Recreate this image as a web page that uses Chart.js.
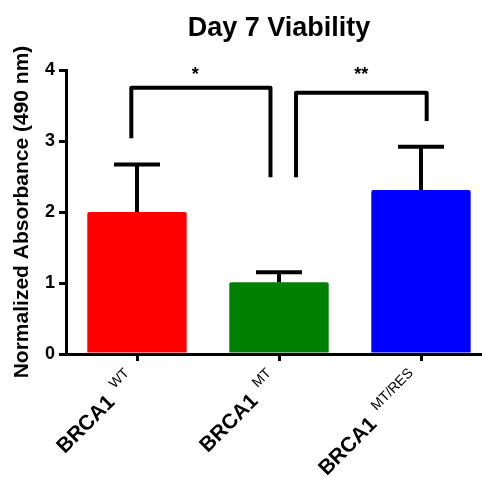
<!DOCTYPE html>
<html>
<head>
<meta charset="utf-8">
<script src="https://cdn.jsdelivr.net/npm/chart.js@4"></script>
<style>
  html, body { margin: 0; padding: 0; background: #fff; overflow: hidden; }
  canvas { display: block; }
</style>
</head>
<body>
<canvas id="c" width="500" height="477"></canvas>
<script>
// Day 7 viability, normalized absorbance at 490 nm
const groups = ['WT', 'MT', 'MT/RES']
const means = [2.0, 1.01, 2.31]
const errUp = [0.67, 0.14, 0.61]
const barColors = ['#ff0000', '#008000', '#0000ff']
const yTicks = [0, 1, 2, 3, 4]

// significance brackets: category positions and value levels
const sigLabels = ['*', '**']
const sigFrom = [-0.04, 1.12]
const sigTo = [0.94, 2.04]
const sigTop = [3.75, 3.68]
const sigLeftEnd = [3.04, 2.49]
const sigRightEnd = [2.49, 3.28]
const sigLabelAt = [0.41, 1.58]
const sigLabelLevel = 3.97

const FONT = 'Liberation Sans, Arial, sans-serif'

//upper-only error bars with a cap
const errorBars = {
    id: 'errorBars',
    afterDatasetsDraw(chart) {
        const {ctx, scales: {x, y}} = chart
        ctx.save()
        ctx.strokeStyle = '#000'
        ctx.lineWidth = 4
        means.forEach((m, i) => {
            const cx = x.getPixelForValue(i)
            const y0 = y.getPixelForValue(m)
            const y1 = y.getPixelForValue(m + errUp[i])
            ctx.beginPath()
            ctx.moveTo(cx, y0)
            ctx.lineTo(cx, y1)
            ctx.moveTo(cx - 23, y1)
            ctx.lineTo(cx + 23, y1)
            ctx.stroke()
        })
        ctx.restore()
    }
}

const brackets = {
    id: 'brackets',
    afterDatasetsDraw(chart) {
        const {ctx, scales: {x, y}} = chart
        ctx.save()
        ctx.strokeStyle = '#000'
        ctx.lineWidth = 4
        ctx.lineJoin = 'round'
        sigLabels.forEach((lab, i) => {
            const x0 = x.getPixelForValue(sigFrom[i])
            const x1 = x.getPixelForValue(sigTo[i])
            const yt = y.getPixelForValue(sigTop[i])
            ctx.beginPath()
            ctx.moveTo(x0, y.getPixelForValue(sigLeftEnd[i]))
            ctx.lineTo(x0, yt)
            ctx.lineTo(x1, yt)
            ctx.lineTo(x1, y.getPixelForValue(sigRightEnd[i]))
            ctx.stroke()
            ctx.fillStyle = '#000'
            ctx.font = 'bold 18px ' + FONT
            ctx.textAlign = 'center'
            ctx.textBaseline = 'middle'
            ctx.fillText(lab, x.getPixelForValue(sigLabelAt[i]), y.getPixelForValue(sigLabelLevel) + 3)
        })
        ctx.restore()
    }
}

//rotated "BRCA1" labels with superscript genotype
const xLabels = {
    id: 'xLabels',
    afterDraw(chart) {
        const {ctx, scales: {x}} = chart
        ctx.save()
        ctx.fillStyle = '#000'
        groups.forEach((g, i) => {
            const cx = x.getPixelForValue(i)
            ctx.save()
            ctx.translate(cx, x.top)
            ctx.rotate(-Math.PI / 4)
            ctx.textAlign = 'right'
            ctx.textBaseline = 'middle'
            ctx.font = '14px ' + FONT
            const supW = ctx.measureText(g).width
            ctx.fillText(g, -19, 5)
            ctx.font = 'bold 21px ' + FONT
            ctx.fillText('BRCA1', -19 - supW - 9, 14)
            ctx.restore()
        })
        ctx.restore()
    }
}

new Chart(document.getElementById('c'), {
    type: 'bar',
    data: {
        labels: groups.map(g => 'BRCA1 ' + g),
        datasets: [{
            data: means,
            backgroundColor: barColors,
            borderWidth: 0,
            borderRadius: 2,
            borderSkipped: 'bottom',
            categoryPercentage: 0.7,
            barPercentage: 1
        }]
    },
    options: {
        responsive: false,
        animation: false,
        layout: {padding: {left: 0, right: 8, top: 0, bottom: 0}},
        plugins: {
            legend: {display: false},
            tooltip: {enabled: false},
            title: {
                display: true,
                text: 'Day 7 Viability',
                fullSize: false,
                color: '#000',
                font: {family: FONT, size: 27, weight: 'bold'},
                padding: {top: 12, bottom: 25.6}
            }
        },
        scales: {
            x: {
                grid: {display: true, offset: false, drawOnChartArea: false, drawTicks: true, tickLength: 7, color: '#000', lineWidth: 3},
                border: {display: true, color: '#000', width: 3},
                ticks: {display: false},
                afterFit(s) { s.height = 123 }
            },
            y: {
                min: 0,
                max: 4,
                afterBuildTicks(s) { s.ticks = yTicks.map(v => ({value: v})) },
                grid: {display: true, drawOnChartArea: false, drawTicks: true, tickLength: 7, color: '#000', lineWidth: 3},
                border: {display: true, color: '#000', width: 3},
                ticks: {color: '#000', padding: 4, font: {family: FONT, size: 18, weight: 'bold'}},
                title: {
                    display: true,
                    text: 'Normalized Absorbance (490 nm)',
                    color: '#000',
                    font: {family: FONT, size: 21, weight: 'bold'},
                    padding: {top: 10, bottom: 0}
                },
                afterFit(s) { s.width = 66 }
            }
        }
    },
    plugins: [errorBars, brackets, xLabels]
})
</script>
</body>
</html>
